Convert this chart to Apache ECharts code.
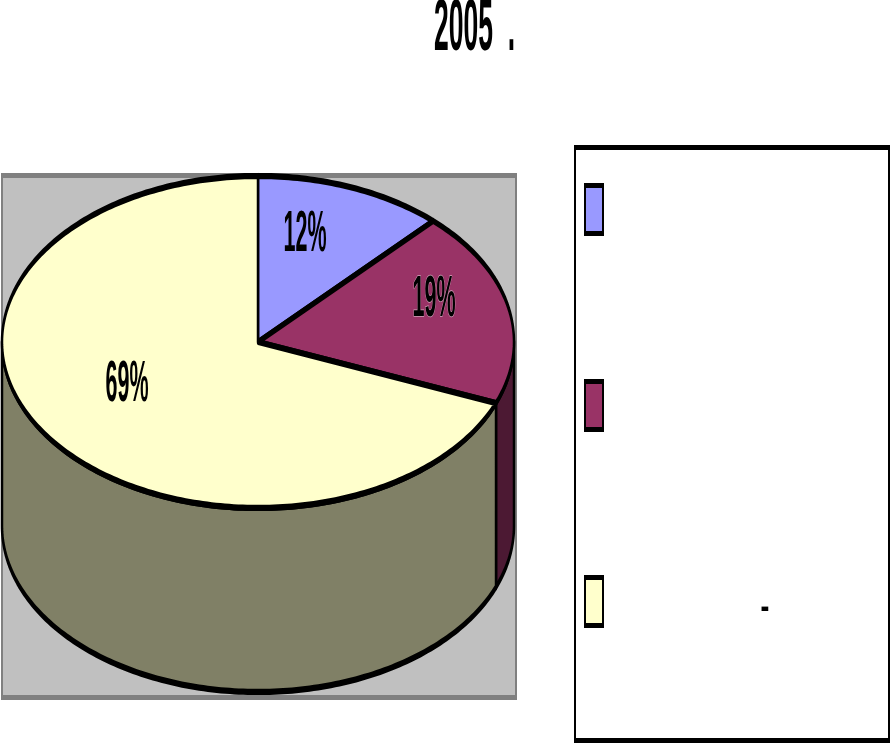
<!DOCTYPE html>
<html>
<head>
<meta charset="utf-8">
<style>html,body{margin:0;padding:0;background:#fff}#c{width:892px;height:743px}</style>
<script src="https://cdn.jsdelivr.net/npm/echarts@6/dist/echarts.min.js"></script>
</head>
<body>
<div id="c"></div>
<script>
// Data
var titleText = '2005  .';
var values = [12, 19, 69];
var legendLabels = ['', '', '-'];
var topColors = ['#9999FF', '#993366', '#FFFFCC'];
var wallColors = ['#4C1933', '#4C1933', '#808066'];

// Layout
var CX = 258, CY = 342, RX = 256, RY = 166, DEPTH = 184, SY = 2.5;
var FONT_TITLE = 'bold 26.5px "Liberation Sans"';
var FONT_LABEL = 'bold 21.5px "Liberation Sans"';
var labelCenters = [[305, 235], [434, 300], [127, 385]];
var swatch = {x: 585, w: 18, h: 48, top: 185.5, step: 196};

var total = values.reduce(function (a, b) { return a + b; }, 0);
var spans = [], acc = 0;
values.forEach(function (v) {
  spans.push([acc / total * 360, (acc + v) / total * 360]);
  acc += v;
});

function pt(deg, dy) {
  var r = deg * Math.PI / 180;
  return [CX + RX * Math.sin(r), (CY - RY * Math.cos(r) + (dy || 0)) / SY];
}
function arc(a, b, dy) {
  var out = [], n = Math.max(2, Math.ceil(Math.abs(b - a)));
  for (var i = 0; i <= n; i++) out.push(pt(a + (b - a) * i / n, dy));
  return out;
}
var outline = {stroke: '#000', lineWidth: 2.5, lineJoin: 'round'};

function renderWall(params) {
  var i = params.dataIndex, a = Math.max(spans[i][0], 90), b = Math.min(spans[i][1], 270);
  if (b <= a) return {type: 'group', children: []};
  var pts = arc(a, b, 0).concat(arc(b, a, DEPTH));
  return {type: 'group', scaleY: SY, children: [{
    type: 'polygon', shape: {points: pts},
    style: Object.assign({fill: wallColors[i]}, outline)
  }]};
}
function renderTop(params) {
  var i = params.dataIndex, s = spans[i];
  var pts = [[CX, CY / SY]].concat(arc(s[0], s[1], 0));
  return {type: 'group', scaleY: SY, children: [{
    type: 'polygon', shape: {points: pts},
    style: Object.assign({fill: topColors[i]}, outline)
  }]};
}
function renderLabel(params) {
  var i = params.dataIndex, c = labelCenters[i];
  return {type: 'text', x: c[0], y: c[1], scaleY: 2.7, style: {
    text: Math.round(values[i] / total * 100) + '%',
    font: FONT_LABEL, fill: '#000', align: 'center', verticalAlign: 'middle',
    stroke: i === 1 ? 'rgba(255,255,255,0.55)' : null, lineWidth: i === 1 ? 0.5 : 0
  }};
}
function renderSwatch(params) {
  var i = params.dataIndex, y = swatch.top + swatch.step * i;
  var kids = [{
    type: 'group', scaleY: SY, children: [{
      type: 'rect',
      shape: {x: swatch.x, y: y / SY, width: swatch.w, height: swatch.h / SY},
      style: {fill: topColors[i], stroke: '#000', lineWidth: 2}
    }]
  }];
  if (legendLabels[i]) kids.push({
    type: 'text', x: 765, y: y + 30, scaleY: 1.4,
    style: {text: legendLabels[i], font: FONT_TITLE, fill: '#000', align: 'center', verticalAlign: 'middle'}
  });
  return {type: 'group', children: kids};
}
function customSeries(fn, z) {
  return {type: 'custom', coordinateSystem: 'none', renderItem: fn, data: values, z: z, silent: true, animation: false};
}

var chart = echarts.init(document.getElementById('c'), null, {renderer: 'canvas'});
chart.setOption({
  animation: false,
  backgroundColor: '#fff',
  graphic: [
    {type: 'rect', z: 0, shape: {x: 1, y: 173, width: 516, height: 527}, style: {fill: '#808080'}},
    {type: 'rect', z: 0, shape: {x: 3, y: 178, width: 512, height: 517}, style: {fill: '#C0C0C0'}},
    {type: 'rect', z: 0, shape: {x: 574, y: 145, width: 316, height: 598}, style: {fill: '#000'}},
    {type: 'rect', z: 0, shape: {x: 576, y: 150, width: 312, height: 588}, style: {fill: '#fff'}},
    {type: 'text', z: 5, x: 434, y: 30, scaleY: 2.7,
     style: {text: titleText, font: FONT_TITLE, fill: '#000', align: 'left', verticalAlign: 'middle'}}
  ],
  series: [
    customSeries(renderWall, 2),
    customSeries(renderTop, 3),
    customSeries(renderLabel, 4),
    customSeries(renderSwatch, 4)
  ]
});
</script>
</body>
</html>
